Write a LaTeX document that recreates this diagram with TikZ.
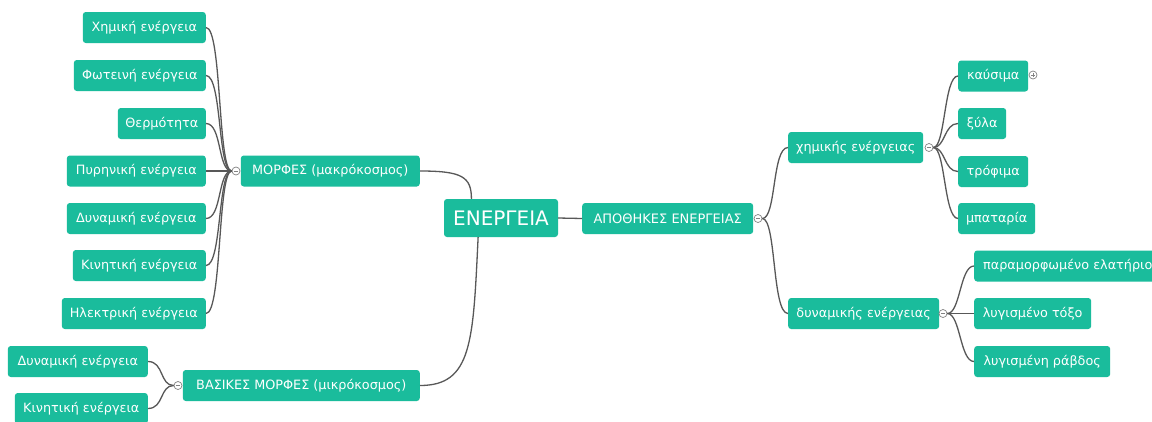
\documentclass[tikz,border=0pt]{standalone}
\usepackage{fontspec}
\setmainfont{DejaVu Sans}
\usepackage{xcolor}
\usepackage{tikz}
\usetikzlibrary{arrows.meta}

\definecolor{mapteal}{RGB}{26,188,156}
\definecolor{mapline}{RGB}{88,88,88}
\definecolor{mapknob}{RGB}{130,130,130}

\begin{document}
\begin{tikzpicture}[x=1pt,y=-1pt,
  topic/.style={fill=mapteal,draw=none,rounded corners=3pt,text=white,inner xsep=7pt,inner ysep=0pt,minimum height=31pt,font=\fontsize{12.8}{15}\selectfont},
  link/.style={draw=mapline,line width=1.3pt},
  knob/.style={circle,draw=mapknob,fill=white,line width=0.7pt,minimum size=8pt,inner sep=0pt,
    path picture={\draw[mapknob,line width=0.7pt] ([xshift=1.8pt]path picture bounding box.west) -- ([xshift=-1.8pt]path picture bounding box.east);}},
  knobplus/.style={knob,
    path picture={\draw[mapknob,line width=0.7pt] ([xshift=1.8pt]path picture bounding box.west) -- ([xshift=-1.8pt]path picture bounding box.east)
      ([yshift=1.8pt]path picture bounding box.south) -- ([yshift=-1.8pt]path picture bounding box.north);}}]
\path[use as bounding box] (0,0) rectangle (1152,421);
\clip (0,0) rectangle (1152,421);
\path[fill=white] (0,0) rectangle (1152,421);

% centre
\node[topic,minimum width=114pt,minimum height=38pt,font=\fontsize{20}{22}\selectfont] (root) at (501,218) {ΕΝΕΡΓΕΙΑ};
\node[topic,anchor=west,minimum width=171pt,font=\fontsize{13}{15}\selectfont] (store) at (582,218.5) {ΑΠΟΘΗΚΕΣ ΕΝΕΡΓΕΙΑΣ};
\node[topic,anchor=east,minimum width=179pt] (forms) at (420,171) {ΜΟΡΦΕΣ (μακρόκοσμος)};
\node[topic,anchor=east,minimum width=237pt] (basic) at (420,385.5) {ΒΑΣΙΚΕΣ ΜΟΡΦΕΣ (μικρόκοσμος)};

% left: forms
\node[topic,anchor=east,minimum width=123pt] (f1) at (206,27.5) {Χημική ενέργεια};
\node[topic,anchor=east,minimum width=132pt] (f2) at (206,75.5) {Φωτεινή ενέργεια};
\node[topic,anchor=east,minimum width=88pt] (f3) at (206,123.5) {Θερμότητα};
\node[topic,anchor=east,minimum width=139pt] (f4) at (206,171) {Πυρηνική ενέργεια};
\node[topic,anchor=east,minimum width=139pt] (f5) at (206,218.5) {Δυναμική ενέργεια};
\node[topic,anchor=east,minimum width=133pt] (f6) at (206,265.5) {Κινητική ενέργεια};
\node[topic,anchor=east,minimum width=144pt] (f7) at (206,313.5) {Ηλεκτρική ενέργεια};
\node[knob] (kforms) at (236,171) {};

% left: basic forms
\node[topic,anchor=east,minimum width=140pt] (b1) at (148,361.5) {Δυναμική ενέργεια};
\node[topic,anchor=east,minimum width=133pt] (b2) at (148,408.5) {Κινητική ενέργεια};
\node[knob] (kbasic) at (178,385.5) {};

% right: stores
\node[topic,anchor=west,minimum width=135pt] (chem) at (788,147.5) {χημικής ενέργειας};
\node[topic,anchor=west,minimum width=151pt] (pot) at (788,313.5) {δυναμικής ενέργειας};
\node[knob] (kstore) at (758,218.5) {};
\node[knob] (kchem) at (929,147.5) {};
\node[knob] (kpot) at (943,313.5) {};

\node[topic,anchor=west,minimum width=70pt] (c1) at (958,76) {καύσιμα};
\node[topic,anchor=west,minimum width=48pt] (c2) at (958,123.5) {ξύλα};
\node[topic,anchor=west,minimum width=70pt] (c3) at (958,171.5) {τρόφιμα};
\node[topic,anchor=west,minimum width=77pt] (c4) at (958,218.5) {μπαταρία};
\node[knobplus] (kfuel) at (1033,75) {};

\node[topic,anchor=west,inner xsep=9pt] (p1) at (974,266) {παραμορφωμένο ελατήριο};
\node[topic,anchor=west,minimum width=117pt] (p2) at (974,313.5) {λυγισμένο τόξο};
\node[topic,anchor=west,minimum width=136pt] (p3) at (974,361.5) {λυγισμένη ράβδος};

% links
\draw[link] (root.east) -- (store.west);
\draw[link] (forms.east) .. controls +(42,0) and +(0,-22) .. (root.147);
\draw[link] (root.220) .. controls +(-5,105) and +(52,0) .. (basic.east);

\foreach \leaf in {f1,f2,f3,f4,f5,f6,f7}
  \draw[link] (kforms.west) .. controls +(-14,0) and +(16,0) .. (\leaf.east);
\foreach \leaf in {b1,b2}
  \draw[link] (kbasic.west) .. controls +(-14,0) and +(16,0) .. (\leaf.east);
\foreach \leaf in {chem,pot}
  \draw[link] (kstore.east) .. controls +(14,0) and +(-16,0) .. (\leaf.west);
\foreach \leaf in {c1,c2,c3,c4}
  \draw[link] (kchem.east) .. controls +(12,0) and +(-14,0) .. (\leaf.west);
\foreach \leaf in {p1,p2,p3}
  \draw[link] (kpot.east) .. controls +(13,0) and +(-14,0) .. (\leaf.west);
\end{tikzpicture}
\end{document}
